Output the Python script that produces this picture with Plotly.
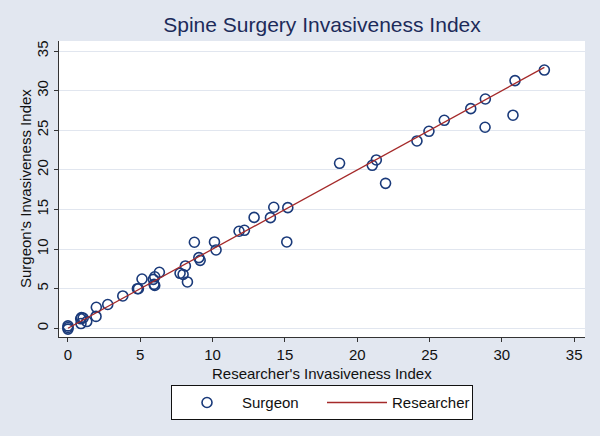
import plotly.graph_objects as go

# invasiveness index (researcher = x, surgeon = y)
researcher = [0, 0, 0, 0.88, 0.93, 1.05, 0.9, 1.3, 1.96, 1.94, 2.75, 3.79, 4.8, 4.87,
              5.12, 5.9, 6.0, 5.95, 6.0, 6.32, 7.75, 7.96, 8.12, 8.26, 8.74, 9.05, 9.14,
              10.13, 10.24, 11.83, 12.2, 12.87, 14.0, 14.23, 15.2, 15.13, 18.78, 21.04,
              21.32, 21.96, 24.13, 24.96, 26.02, 27.85, 28.86, 28.84, 30.91, 30.77, 32.94]
surgeon = [0.3, 0.1, -0.1, 1.2, 1.35, 1.3, 0.6, 0.85, 2.65, 1.5, 3.0, 4.08, 5.0, 5.0,
           6.22, 6.18, 6.5, 5.55, 5.4, 7.07, 6.94, 6.8, 7.87, 5.85, 10.86, 8.92, 8.58,
           10.9, 9.89, 12.25, 12.37, 14.0, 13.97, 15.28, 15.23, 10.9, 20.83, 20.58,
           21.25, 18.3, 23.65, 24.87, 26.26, 27.73, 28.95, 25.38, 31.27, 26.9, 32.6]
ticks = [0, 5, 10, 15, 20, 25, 30, 35]

BG = "#E2E7F0"
NAVY = "#1A3A7A"
FONT = "Liberation Sans, Arial, sans-serif"

line_x = sorted(researcher)

fig = go.Figure()
fig.add_trace(go.Scatter(
    x=researcher, y=surgeon, mode="markers", name="Surgeon",
    marker=dict(symbol="circle-open", size=10, color=NAVY, line=dict(width=1.6, color=NAVY)),
))
fig.add_trace(go.Scatter(
    x=line_x, y=line_x, mode="lines", name="Researcher",
    line=dict(color="#A52A2A", width=1.3),
))

axis_common = dict(
    showline=True, linecolor="#333333", linewidth=1,
    ticks="outside", ticklen=4, tickcolor="#333333",
    tickvals=ticks, zeroline=False, automargin=False,
    tickfont=dict(size=15, color="#111111"),
)

fig.update_layout(
    width=600, height=436,
    paper_bgcolor=BG, plot_bgcolor="white",
    font=dict(family=FONT, color="#111111"),
    margin=dict(l=59, r=15, t=41, b=99),
    title=dict(text="Spine Surgery Invasiveness Index", x=322 / 600, xanchor="center",
               y=1 - 25 / 436, yanchor="middle",
               font=dict(size=21, color="#1C2B5A")),
    xaxis=dict(range=[-0.62, 35.75], showgrid=False, **axis_common),
    yaxis=dict(range=[-1.1, 36.27], showgrid=True, gridcolor="#E1E6EF", gridwidth=1,
               tickangle=-90, **axis_common),
    legend=dict(orientation="h", x=0.5, xanchor="center", y=-0.163, yanchor="top",
                bgcolor="white", bordercolor="#111111", borderwidth=1,
                font=dict(size=15), itemwidth=60, entrywidth=75),
    showlegend=True,
)

# axis titles placed as annotations for exact positioning
fig.add_annotation(text="Researcher's Invasiveness Index", xref="paper", yref="paper",
                   x=0.5, y=(337 - 373) / 296, xanchor="center", yanchor="middle",
                   showarrow=False, font=dict(size=15))
fig.add_annotation(text="Surgeon's Invasiveness Index", xref="paper", yref="paper",
                   x=(25 - 59) / 526, y=0.5, xanchor="center", yanchor="middle",
                   textangle=-90, showarrow=False, font=dict(size=15))

# drop the browser's default 8px body margin so the figure sits at the page origin
fig.write_html("out.html", config={"displayModeBar": False},
               post_script="document.body.style.margin='0';"
               f"document.body.style.background='{BG}';")
